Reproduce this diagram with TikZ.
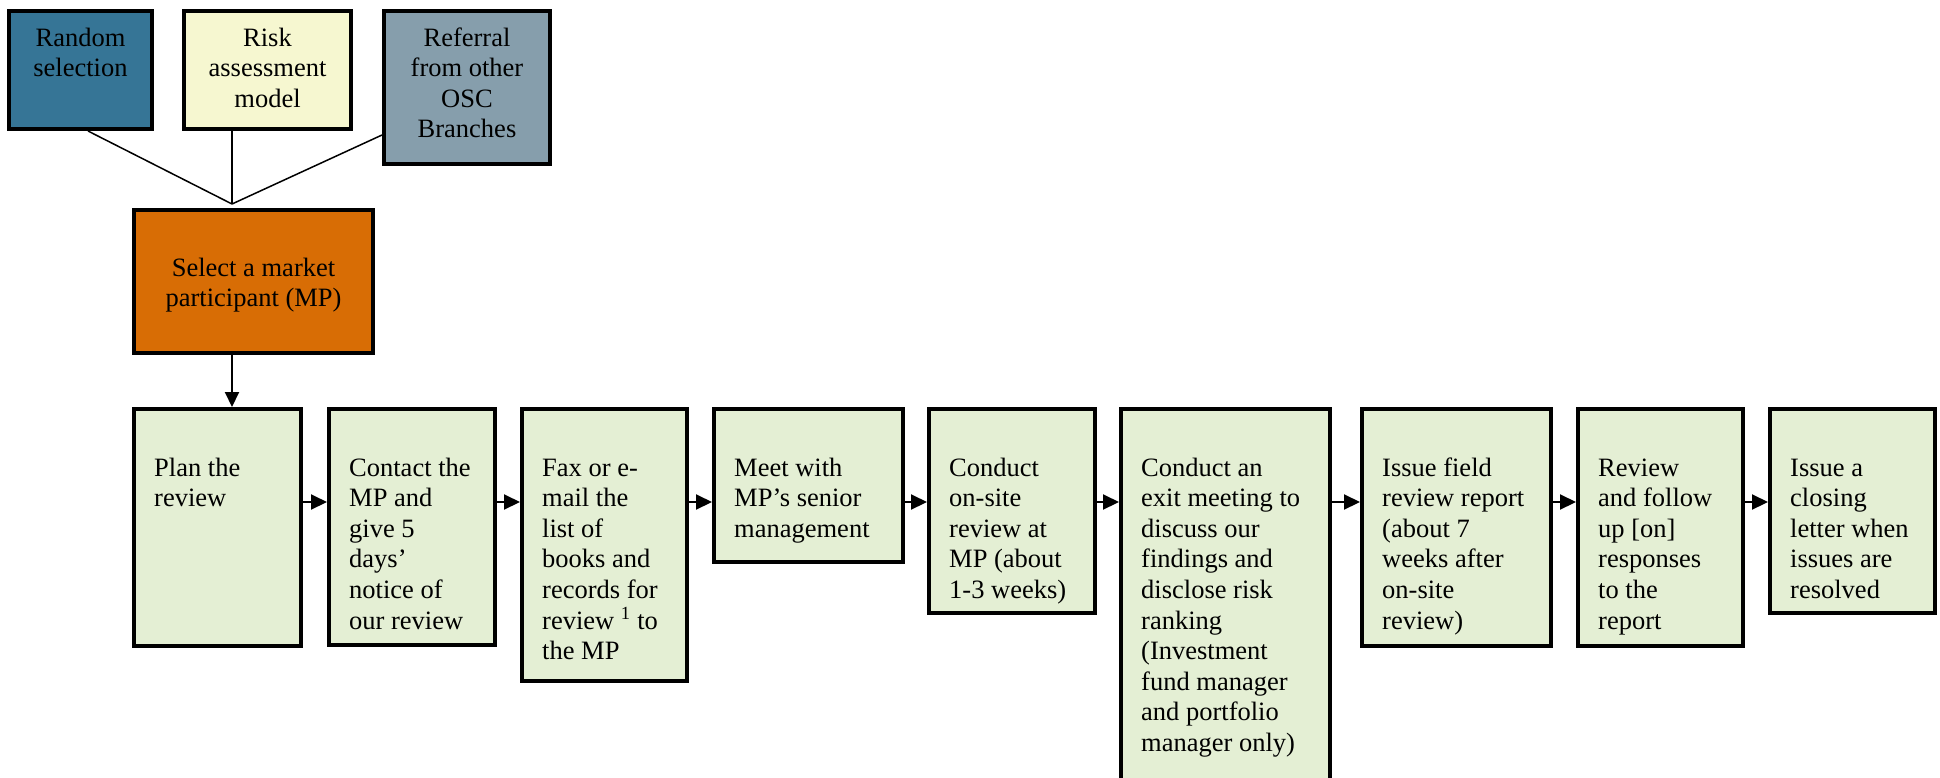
\documentclass[tikz,border=0pt]{standalone}
\usepackage{fontspec}
\setmainfont{Liberation Serif}
\usetikzlibrary{arrows.meta,fit,calc}
\definecolor{randc}{HTML}{367596}
\definecolor{riskc}{HTML}{F6F7D0}
\definecolor{refc}{HTML}{869EAC}
\definecolor{selc}{HTML}{D86D05}
\definecolor{greenc}{HTML}{E4EFD4}
\newcommand\lefttab[1]{\begin{tabular}[t]{@{}l@{}}#1\end{tabular}}
\newcommand\centtab[1]{\begin{tabular}[t]{@{}c@{}}#1\end{tabular}}
\tikzset{
  box/.style={draw=black, line width=4pt, inner sep=0pt, rectangle},
  gbox/.style={box, fill=greenc},
  txt/.style={inner sep=0pt, font=\fontsize{26.5}{30.6}\selectfont},
  ltxt/.style={txt, anchor=base west},
  ctxt/.style={txt, anchor=base},
  conn/.style={line width=1.5pt},
  arr/.style={line width=2pt, -{Triangle[length=16pt,width=15pt]}},
  varr/.style={line width=2pt, -{Triangle[length=15pt,width=14pt]}},
}
\begin{document}
\begin{tikzpicture}[x=1pt,y=1pt]
\useasboundingbox (0,0) rectangle (1940,-777);
\clip (0,0) rectangle (1940,-777);
% source boxes
\node[box, fill=randc, fit={(9,-11) (152,-129)}] (random) {};
\node[box, fill=riskc, fit={(184,-11) (351,-129)}] (risk) {};
\node[box, fill=refc, fit={(384,-11) (550,-164)}] (referral) {};
\node[box, fill=selc, fit={(134,-210) (373,-353)}] (select) {};
% process boxes
\node[gbox, fit={(134,-409) (301,-646)}] (plan) {};
\node[gbox, fit={(329,-409) (495,-645)}] (contact) {};
\node[gbox, fit={(522,-409) (687,-681)}] (fax) {};
\node[gbox, fit={(714,-409) (903,-562)}] (meet) {};
\node[gbox, fit={(929,-409) (1095,-613)}] (onsite) {};
\node[gbox, fit={(1121,-409) (1330,-820)}] (exit) {};
\node[gbox, fit={(1362,-409) (1551,-646)}] (issue) {};
\node[gbox, fit={(1578,-409) (1743,-646)}] (review) {};
\node[gbox, fit={(1770,-409) (1935,-613)}] (closing) {};
% texts
\node[ctxt] (random-t) at ($(random.north)+(0,-37)$) {\centtab{Random\\selection}};
\node[ctxt] (risk-t) at ($(risk.north)+(0,-37)$) {\centtab{Risk\\assessment\\model}};
\node[ctxt] (referral-t) at ($(referral.north)+(0,-37)$) {\centtab{Referral\\from other\\OSC\\Branches}};
\node[ctxt] (select-t) at ($(select.north)+(0,-68)$) {\centtab{Select a market\\participant (MP)}};
\node[ltxt] (plan-t) at ($(plan.north west)+(22,-69)$) {\lefttab{Plan the\\review}};
\node[ltxt] (contact-t) at ($(contact.north west)+(22,-69)$) {\lefttab{Contact the\\MP and\\give 5\\days’\\notice of\\our review}};
\node[ltxt] (fax-t) at ($(fax.north west)+(22,-69)$) {\lefttab{Fax or e-\\mail the\\list of\\books and\\records for\\review \textsuperscript{1} to\\the MP}};
\node[ltxt] (meet-t) at ($(meet.north west)+(22,-69)$) {\lefttab{Meet with\\MP’s senior\\management}};
\node[ltxt] (onsite-t) at ($(onsite.north west)+(22,-69)$) {\lefttab{Conduct\\on-site\\review at\\MP (about\\1-3 weeks)}};
\node[ltxt] (exit-t) at ($(exit.north west)+(22,-69)$) {\lefttab{Conduct an\\exit meeting to\\discuss our\\findings and\\disclose risk\\ranking\\(Investment\\fund manager\\and portfolio\\manager only)}};
\node[ltxt] (issue-t) at ($(issue.north west)+(22,-69)$) {\lefttab{Issue field\\review report\\(about 7\\weeks after\\on-site\\review)}};
\node[ltxt] (review-t) at ($(review.north west)+(22,-69)$) {\lefttab{Review\\and follow\\up [on]\\responses\\to the\\report}};
\node[ltxt] (closing-t) at ($(closing.north west)+(22,-69)$) {\lefttab{Issue a\\closing\\letter when\\issues are\\resolved}};
% connectors
\coordinate (junc) at (232,-204);
\draw[conn] ($(random.south)+(7.5,0)$) -- (junc);
\draw[conn] (risk.south -| junc) -- (junc);
\draw[conn] ($(referral.south west)+(0,31)$) -- (junc);
\draw[varr] (select.south -| junc) -- (plan.north -| junc);
\coordinate (ay) at (0,-502);
\foreach \a/\b in {plan/contact, contact/fax, fax/meet, meet/onsite, onsite/exit, exit/issue, issue/review, review/closing}
  \draw[arr] (\a.east |- ay) -- (\b.west |- ay);
\end{tikzpicture}
\end{document}
